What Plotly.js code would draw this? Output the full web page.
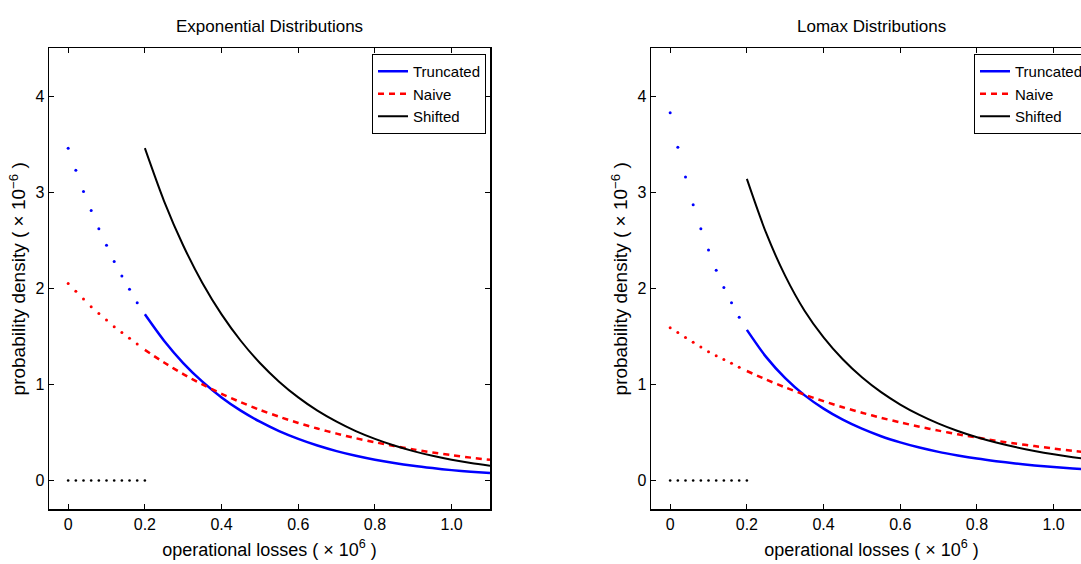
<!DOCTYPE html>
<html>
<head>
<meta charset="utf-8">
<script src="https://cdn.plot.ly/plotly-3.0.1.min.js"></script>
<style>
html,body{margin:0;padding:0;overflow:hidden;background:#fff;}
#chart{width:1100px;height:564px;}
</style>
</head>
<body>
<div id="chart"></div>
<script>
// ---------- data ----------
const dotX = [0, 0.02, 0.04, 0.06, 0.08, 0.10, 0.12, 0.14, 0.16, 0.18];
const zeroX = [0, 0.02, 0.04, 0.06, 0.08, 0.10, 0.12, 0.14, 0.16, 0.18, 0.20];
const zeroY = [0, 0, 0, 0, 0, 0, 0, 0, 0, 0, 0];
const curveX = [0.20, 0.25, 0.30, 0.35, 0.40, 0.45, 0.50, 0.55, 0.60, 0.65, 0.70, 0.75, 0.80, 0.85, 0.90, 0.95, 1.00, 1.05, 1.10];

// Exponential distributions
const expTruncDots = [3.46, 3.23, 3.01, 2.81, 2.62, 2.45, 2.28, 2.13, 1.99, 1.85];
const expNaiveDots = [2.05, 1.97, 1.89, 1.81, 1.74, 1.67, 1.60, 1.54, 1.48, 1.42];
const expTrunc = [1.73, 1.455, 1.223, 1.029, 0.865, 0.727, 0.612, 0.514, 0.433, 0.364, 0.306, 0.257, 0.216, 0.182, 0.153, 0.129, 0.108, 0.091, 0.077];
const expNaive = [1.36, 1.228, 1.108, 1.000, 0.903, 0.815, 0.735, 0.664, 0.599, 0.541, 0.488, 0.440, 0.398, 0.359, 0.324, 0.292, 0.264, 0.238, 0.215];
const expShift = [3.46, 2.91, 2.447, 2.057, 1.73, 1.455, 1.223, 1.029, 0.865, 0.727, 0.612, 0.514, 0.433, 0.364, 0.306, 0.257, 0.216, 0.182, 0.153];

// Lomax distributions
const lomTruncDots = [3.83, 3.47, 3.16, 2.87, 2.62, 2.40, 2.19, 2.01, 1.85, 1.70];
const lomNaiveDots = [1.59, 1.54, 1.49, 1.44, 1.39, 1.34, 1.30, 1.26, 1.22, 1.18];
const lomTrunc = [1.568, 1.287, 1.066, 0.889, 0.748, 0.633, 0.539, 0.461, 0.397, 0.343, 0.298, 0.261, 0.228, 0.201, 0.178, 0.157, 0.140, 0.125, 0.112];
const lomNaive = [1.14, 1.051, 0.969, 0.894, 0.826, 0.763, 0.706, 0.653, 0.605, 0.560, 0.519, 0.481, 0.447, 0.414, 0.385, 0.358, 0.333, 0.309, 0.288];
const lomShift = [3.14, 2.58, 2.13, 1.77, 1.49, 1.262, 1.075, 0.920, 0.791, 0.683, 0.592, 0.515, 0.450, 0.395, 0.348, 0.307, 0.272, 0.242, 0.215];

const subplotTitles = ["Exponential Distributions", "Lomax Distributions"];
const seriesNames = ["Truncated", "Naive", "Shifted"];
const xTickVals = [0, 0.2, 0.4, 0.6, 0.8, 1.0];
const xTickText = ["0", "0.2", "0.4", "0.6", "0.8", "1.0"];
const yTickVals = [0, 1, 2, 3, 4];
const yTickText = ["0", "1", "2", "3", "4"];
const xLabel = "operational losses ( \u00d7 10<sup>6</sup> )";
const yLabel = "probability density ( \u00d7 10<sup>\u22126</sup> )";

// ---------- styling ----------
const FONT = "'Liberation Sans Narrow', 'Liberation Sans', Arial, sans-serif";
const BLUE = "#0000ff", RED = "#ff0000", BLACK = "#000000";

function panel(xa, ya, legendId, tDots, nDots, trunc, naive, shift) {
  return [
    {x: dotX, y: tDots, xaxis: xa, yaxis: ya, mode: "markers", marker: {color: BLUE, size: 3}, showlegend: false, hoverinfo: "skip"},
    {x: dotX, y: nDots, xaxis: xa, yaxis: ya, mode: "markers", marker: {color: RED, size: 3}, showlegend: false, hoverinfo: "skip"},
    {x: zeroX, y: zeroY, xaxis: xa, yaxis: ya, mode: "markers", marker: {color: BLACK, size: 2.6}, showlegend: false, hoverinfo: "skip"},
    {x: curveX, y: trunc, xaxis: xa, yaxis: ya, mode: "lines", name: seriesNames[0], line: {color: BLUE, width: 2.5, shape: "spline", smoothing: 0.8}, legend: legendId},
    {x: curveX, y: naive, xaxis: xa, yaxis: ya, mode: "lines", name: seriesNames[1], line: {color: RED, width: 2.5, dash: "6px,5px", shape: "spline", smoothing: 0.8}, legend: legendId},
    {x: curveX, y: shift, xaxis: xa, yaxis: ya, mode: "lines", name: seriesNames[2], line: {color: BLACK, width: 2, shape: "spline", smoothing: 0.8}, legend: legendId}
  ];
}

const data = [].concat(
  panel("x", "y", "legend", expTruncDots, expNaiveDots, expTrunc, expNaive, expShift),
  panel("x2", "y2", "legend2", lomTruncDots, lomNaiveDots, lomTrunc, lomNaive, lomShift)
);

const W = 1100, H = 564;
const dx1 = [49 / W, 490 / W];
const dx2 = [651 / W, 1092 / W];
const dy = [(H - 509.3) / H, (H - 48.3) / H];

function xAxis(domain, anchor) {
  return {
    domain: domain, anchor: anchor, range: [-0.05, 1.1],
    tickvals: xTickVals, ticktext: xTickText,
    ticks: "inside", ticklen: 5, tickwidth: 1, tickcolor: "#000",
    showline: true, linecolor: "#000", linewidth: 1.5, mirror: "ticks",
    showgrid: false, zeroline: false,
    tickfont: {family: FONT, size: 16, color: "#000"},
    title: {text: xLabel, font: {family: FONT, size: 18, color: "#000"}, standoff: 11}
  };
}
function yAxis(domain, anchor) {
  return {
    domain: domain, anchor: anchor, range: [-0.3, 4.5],
    tickvals: yTickVals, ticktext: yTickText,
    ticks: "inside", ticklen: 5, tickwidth: 1, tickcolor: "#000",
    showline: true, linecolor: "#000", linewidth: 1.5, mirror: "ticks",
    showgrid: false, zeroline: false,
    tickfont: {family: FONT, size: 16, color: "#000"},
    title: {text: yLabel, font: {family: FONT, size: 19, color: "#000"}, standoff: 4}
  };
}

const legendBase = {
  font: {family: FONT, size: 15, color: "#000"},
  bgcolor: "#fff", bordercolor: "#000", borderwidth: 1,
  xref: "paper", yref: "paper", xanchor: "right", yanchor: "top",
  tracegroupgap: 0, itemwidth: 30
};

const layout = {
  width: W, height: H,
  margin: {l: 0, r: 0, t: 0, b: 0},
  paper_bgcolor: "#fff", plot_bgcolor: "#fff",
  showlegend: true,
  xaxis: xAxis(dx1, "y"),
  yaxis: yAxis(dy, "x"),
  xaxis2: xAxis(dx2, "y2"),
  yaxis2: yAxis(dy, "x2"),
  legend: Object.assign({}, legendBase, {x: 486 / W, y: (H - 54) / H}),
  legend2: Object.assign({}, legendBase, {x: 1088 / W, y: (H - 54) / H}),
  annotations: [
    {text: subplotTitles[0], xref: "paper", yref: "paper", x: (dx1[0] + dx1[1]) / 2, y: (H - 26) / H, xanchor: "center", yanchor: "middle", showarrow: false, font: {family: FONT, size: 17, color: "#000"}},
    {text: subplotTitles[1], xref: "paper", yref: "paper", x: (dx2[0] + dx2[1]) / 2, y: (H - 26) / H, xanchor: "center", yanchor: "middle", showarrow: false, font: {family: FONT, size: 17, color: "#000"}}
  ]
};

Plotly.newPlot("chart", data, layout, {displayModeBar: false, staticPlot: true});
</script>
</body>
</html>
